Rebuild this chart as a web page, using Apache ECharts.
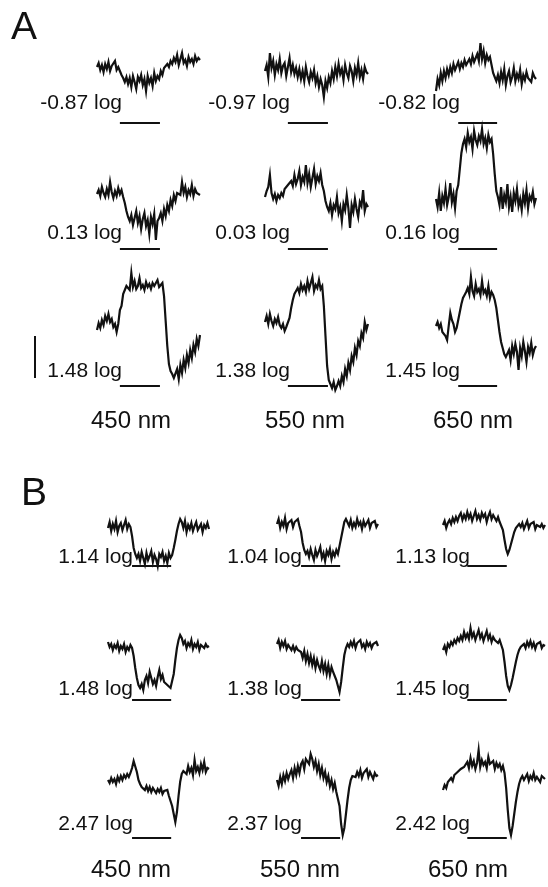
<!DOCTYPE html>
<html>
<head>
<meta charset="utf-8">
<script src="https://cdn.jsdelivr.net/npm/echarts/dist/echarts.min.js"></script>
<style>
  html, body { margin: 0; padding: 0; background: #ffffff; }
  #chart { width: 548px; height: 887px; }
</style>
</head>
<body>
<div id="chart"></div>
<script>
// Column headings (stimulus wavelength) and intensity labels per row
const wavelengths = ['450 nm', '550 nm', '650 nm'];
const intensityA = [
  ['-0.87 log', '-0.97 log', '-0.82 log'],
  ['0.13 log', '0.03 log', '0.16 log'],
  ['1.48 log', '1.38 log', '1.45 log']
];
const intensityB = [
  ['1.14 log', '1.04 log', '1.13 log'],
  ['1.48 log', '1.38 log', '1.45 log'],
  ['2.47 log', '2.37 log', '2.42 log']
];

// Stimulus window (sample index, on / off)
const stimA = [14, 38.5];
const stimB = [15, 39.4];
const stimLevel = -50;
// Amplitude calibration bar (same units as the traces)
const scaleBar = [0, -42];

// Panel A responses (64 samples each, amplitude in arbitrary units)
const a1_450 = [6, 10, 3, 8, 1, 9, 4, 11, 2, 7, 5, 12, 3, 6,
  2, -2, -5, -9, -4,
  -11, -5, -14, -3, -9, -16, -4, -8, -2, -12, -6, -18, -3, -10, -5, -13, 0, -8,
  -3, -6, 2, -2, 5, 3, 9, 6, 12,
  9, 15, 11, 18, 8, 14, 20, 10, 13, 7, 16, 11, 14, 9, 17, 12, 15, 13];
const a1_550 = [2, 8, -4, 20, 5, 12, -2, 9, 3, 14, 0, 7, 10, -3, 6, 15, 1, 8, -1, 5,
  -4, 4, -6, 2, -8, 6, -3, -9, 1, -5, 3,
  -10, -3, -14, -6, -12, -24, -8, -15, -4, -10,
  2, -6, 6, -3, 9, -1, 4, -7, 8, 0, -5, 7, 2, -8, 5, -2, 10, -4, 3, -6, 6, 1, -1];
const a1_650 = [-18, -6, -12, 0, -8, 2, -5, 4, -2, 6, 0, 9, 3, 7, 11, 4, 10, 6, 13, 8, 10,
  14, 9, 17, 11, 15, 19, 12, 30, 14, 22, 10, 18, 13, 16,
  8, 0, -4, -8,
  -2, -10, 1, -7, 4, -12, -3, 2, -9, -4, 5, -8, -1, -6, 3, -11, -2, -7, 1, -5, -3, -9, 0, -4, -6];

const a2_450 = [5, 9, 3, 12, 6, 2, 10, 4, 17, 7, 1, 8, 3, 11, 5, 9, 2,
  -4, -12, -18, -22,
  -16, -26, -19, -12, -24, -17, -30, -20, -14, -27, -21, -35, -18, -25, -15, -41, -22, -19,
  -14, -22, -10, -17, -6, -12, -1, -7, 4, -2, 6,
  8, 4, 17, 6, 12, 2, 9, 5, 14, 3, 10, 6, 8, 4];
const a2_550 = [2, 8, 12, 24, 6, 0, 5, -2, 4, 1,
  6, 3, 10, 8, 14, 12,
  18, 13, 24, 15, 20, 28, 14, 22, 17, 34, 16, 25, 12, 21, 30, 15, 23, 18, 26, 14,
  8, -2, -8,
  -12, -4, -16, -6, -10, 2, -14, -8, -22, -5, -11, 4, -9, -29, -6, -13, 0, -10, -18, -3, -7, 9, -12, -5, -8];
const a2_650 = [0, -8, 6, -12, 3, -4, 10, -6, 2, 16, -3, 5, -9, 8,
  14, 30, 46, 55,
  60, 52, 66, 57, 62, 50, 68, 59, 54, 63, 58, 70, 55, 61, 51, 64, 57, 60,
  45, 25, 8, 2,
  -6, 12, -10, 4, -3, 15, -8, 2, -13, 6, -2, 10, -7, 0, -11, 5, -4, 9, -9, 3, -1, 7, -5, 1];

const a3_450 = [6, 13, 8, 16, 11, 20, 15, 22, 14, 17, 9, 12, 4,
  12, 26, 30, 42, 44, 50,
  52, 46, 63, 49, 55, 47, 50, 58, 48, 51, 46, 54, 49, 52, 47, 53, 50, 48, 56, 49, 51, 53,
  40, 15, -10, -28, -35, -38, -42, -40,
  -33, -43, -29, -37, -24, -32, -19, -27, -14, -22, -9, -16, -3, -10, 1];
const a3_550 = [14, 20, 12, 22, 15, 10, 17, 13, 19, 11, 8, 12, 5, 9, 10,
  18, 28, 36, 42, 45,
  48, 43, 52, 46, 50, 44, 55, 47, 49, 59, 45, 51, 48, 56, 47, 50,
  30, 0, -30, -44, -48, -52, -46, -54, -50,
  -45, -50, -40, -46, -33, -40, -27, -34, -20, -26, -12, -19, -5, -10, 3, -2, 14, 6, 12];
const a3_650 = [10, 14, 8, 12, 4, 6, 0, -4, 10, 23, 16, 12, 4, 8,
  16, 24, 32, 38, 41, 44,
  48, 42, 59, 45, 40, 52, 44, 47, 41, 55, 43, 46, 40, 50, 38, 44, 41, 36,
  28, 16, 4, -6, -12, -18, -21, -20,
  -14, -24, -10, -18, -8, -16, -34, -12, -20, -6, -15, -26, -11, -17, -7, -19, -13, -10];

// Panel B responses
const b1_450 = [-12, -6, -15, -8, -13, -5, -16, -10, -7, -14, -9, -4, -13, -8, -11,
  -20, -32, -38, -42,
  -38, -45, -36, -42, -48, -37, -44, -40, -35, -46, -39, -43, -50, -38, -41, -36, -45, -40, -47, -37, -42, -39,
  -32, -24, -15, -8, -3, -6,
  -12, -5, -16, -9, -13, -7, -15, -10, -6, -14, -11, -8, -16, -9, -12, -7, -13];
const b1_550 = [-8, -3, -12, -6, -10, -2, -13, -7, -9, -4, -11, -6, -8, -3, -10,
  -16, -27, -34, -38,
  -35, -41, -33, -39, -44, -34, -40, -36, -31, -42, -37, -45, -35, -39, -33, -43, -36, -40, -34, -38,
  -30, -22, -14, -6, -3, -5,
  -10, -4, -12, -7, -11, -3, -9, -6, -13, -5, -10, -8, -4, -12, -7, -9, -5, -11, -8];
const b1_650 = [-9, -5, -12, -7, -4, -8, -2, -6, -1, -5, 0,
  3, -4, 1, -3, 4, -2, 2, -5, 0, 5, -3, 1, -4, 3, -1, 2, -6, 0, 4, -3, 1, -2, -5, -1, -6, -8,
  -14, -24, -33, -38, -34, -28, -22, -16, -12, -10, -8, -11,
  -7, -13, -9, -5, -12, -8, -10, -6, -13, -9, -7, -11, -8, -12, -9];

const b2_450 = [8, 3, 6, 0, 5, 2, 7, -1, 4, 1, 6, -2, 3, 0, 5, 2,
  -6, -18, -28, -35, -38,
  -34, -40, -30, -26, -33, -22, -28, -34, -30, -36, -27, -20, -29, -25, -32, -30, -35, -33, -38, -36,
  -24, -10, 2, 10, 15, 12,
  6, 9, 2, 7, 4, 10, 1, 6, 3, 8, 0, 5, 7, 2, 6, 3, 4];
const b2_550 = [6, 10, 2, 8, 4, 9, 1, 5, 7, 0, 4, -1, 3, 0, 2,
  -2, -8, -1, -11, -4, -13, -6, -15, -8, -18, -10, -16, -20, -11, -21, -14, -24, -15, -25, -17, -22, -26,
  -30, -36, -42, -32, -18, -5, 2, 6,
  3, 8, 4, 9, 2, 7, 5, 10, 3, 6, 1, 8, 4, 7, 2, 6, 5, 8, 4];
const b2_650 = [0, 4, -2, 6, 3, 8, 5, 10, 7, 12, 9,
  14, 10, 18, 12, 16, 11, 22, 13, 17, 10, 15, 20, 12, 16, 9, 14, 19, 11, 15, 8, 13, 10, 12, 7, 10, 5, 0,
  -12, -26, -36, -40, -35, -28, -20, -12, -5, 0, 3, 1,
  6, 2, 8, 4, 9, 3, 7, 1, 6, 4, 8, 2, 5, 4];

const b3_450 = [8, 5, 10, 6, 9, 4, 11, 7, 12, 8, 13, 10, 14, 11, 15,
  20, 27, 25, 16, 8, 4, 1,
  3, -2, 2, -3, 1, -4, 0, -2, -5, -1, -4, 0, -6, -3, -5, -2, -8, -10,
  -18, -26, -34, -24, -8, 6, 14, 17, 18,
  14, 22, 16, 20, 13, 28, 17, 21, 15, 24, 18, 26, 16, 20, 19];
const b3_550 = [8, 2, 11, 4, 13, 7, 15, 9, 14, 18, 10, 20, 13, 22, 15, 24, 27, 19, 29, 31, 24, 34,
  29, 21, 27, 17, 24, 13, 20, 10, 16, 6, 12, 2, 8, -1, 5, -4, -6,
  -18, -36, -47, -40, -26, -12, 0, 8, 12, 14, 11,
  16, 12, 18, 10, 15, 13, 19, 11, 16, 14, 9, 15, 12, 13];
const b3_650 = [-2, 3, 0, 6, 4, 10, 7, 13, 11, 16, 14, 19, 17, 21, 23,
  26, 20, 30, 22, 27, 19, 25, 38, 21, 28, 23, 26, 20, 31, 24, 22, 27, 19, 25, 21, 24, 18, 22, 15,
  0, -22, -40, -47, -38, -26, -14, -4, 4, 9, 12, 8, 10,
  14, 7, 12, 9, 15, 8, 11, 13, 6, 12, 10, 9];

// Layout of the two panels (pixel positions of each trace block)
const panels = [
  {
    letter: 'A', letterPos: [11, 9],
    traces: [[a1_450, a1_550, a1_650], [a2_450, a2_550, a2_650], [a3_450, a3_550, a3_650]],
    labels: intensityA, stim: stimA,
    colX: [97, 265, 436], colW: [103, 103, 100],
    rowY: [73, 199, 336],
    labelRight: [122, 290, 460], labelY: [103, 233, 371],
    nmX: [131, 305, 473], nmY: 421,
    scaleBarX: 35, scaleBarRow: 2
  },
  {
    letter: 'B', letterPos: [21, 475],
    traces: [[b1_450, b1_550, b1_650], [b2_450, b2_550, b2_650], [b3_450, b3_550, b3_650]],
    labels: intensityB, stim: stimB,
    colX: [108, 277, 443], colW: [101, 101, 102],
    rowY: [516, 650, 788],
    labelRight: [133, 302, 470], labelY: [557, 689, 824],
    nmX: [131, 300, 468], nmY: 870
  }
];

const INK = '#111111';
const FONT = '"Liberation Sans", Arial, Helvetica, sans-serif';
const Y_MIN = -60, Y_MAX = 70, GRID_H = 130, GRID_ABOVE = 70;

const grid = [], xAxis = [], yAxis = [], series = [], graphic = [];

function addGrid(left, top, width, xMax) {
  const gi = grid.length;
  grid.push({ left: left, top: top, width: width, height: GRID_H });
  xAxis.push({ type: 'value', gridIndex: gi, min: 0, max: xMax, show: false });
  yAxis.push({ type: 'value', gridIndex: gi, min: Y_MIN, max: Y_MAX, show: false });
  return gi;
}

function addLine(gi, data, width) {
  series.push({
    type: 'line', xAxisIndex: gi, yAxisIndex: gi, clip: false,
    showSymbol: false, symbol: 'none', silent: true,
    lineStyle: { color: INK, width: width, join: 'miter' },
    data: data
  });
}

panels.forEach((p) => {
  graphic.push({
    type: 'text', x: p.letterPos[0], y: p.letterPos[1],
    style: { text: p.letter, fill: INK, font: '400 39px ' + FONT, align: 'left', verticalAlign: 'top' }
  });
  p.nmX.forEach((x, c) => {
    graphic.push({
      type: 'text', x: x, y: p.nmY,
      style: { text: wavelengths[c], fill: INK, font: '400 24px ' + FONT, align: 'center', verticalAlign: 'middle' }
    });
  });
  p.traces.forEach((row, r) => {
    row.forEach((trace, c) => {
      const gi = addGrid(p.colX[c], p.rowY[r] - GRID_ABOVE, p.colW[c], trace.length - 1);
      addLine(gi, trace.map((v, i) => [i, v]), 2.2);
      // stimulus bar
      addLine(gi, [[p.stim[0], stimLevel], [p.stim[1], stimLevel]], 2);
      graphic.push({
        type: 'text', x: p.labelRight[c], y: p.labelY[r],
        style: { text: p.labels[r][c], fill: INK, font: '400 21px ' + FONT, align: 'right', verticalAlign: 'middle' }
      });
    });
  });
  // vertical amplitude calibration bar
  if (p.scaleBarX !== undefined) {
    const gi = addGrid(p.scaleBarX - 1, p.rowY[p.scaleBarRow] - GRID_ABOVE, 2, 1);
    addLine(gi, [[0.5, scaleBar[0]], [0.5, scaleBar[1]]], 2);
  }
});

const chart = echarts.init(document.getElementById('chart'), null, { renderer: 'canvas' });
chart.setOption({
  animation: false,
  backgroundColor: '#ffffff',
  grid: grid, xAxis: xAxis, yAxis: yAxis, series: series, graphic: graphic
});
</script>
</body>
</html>
